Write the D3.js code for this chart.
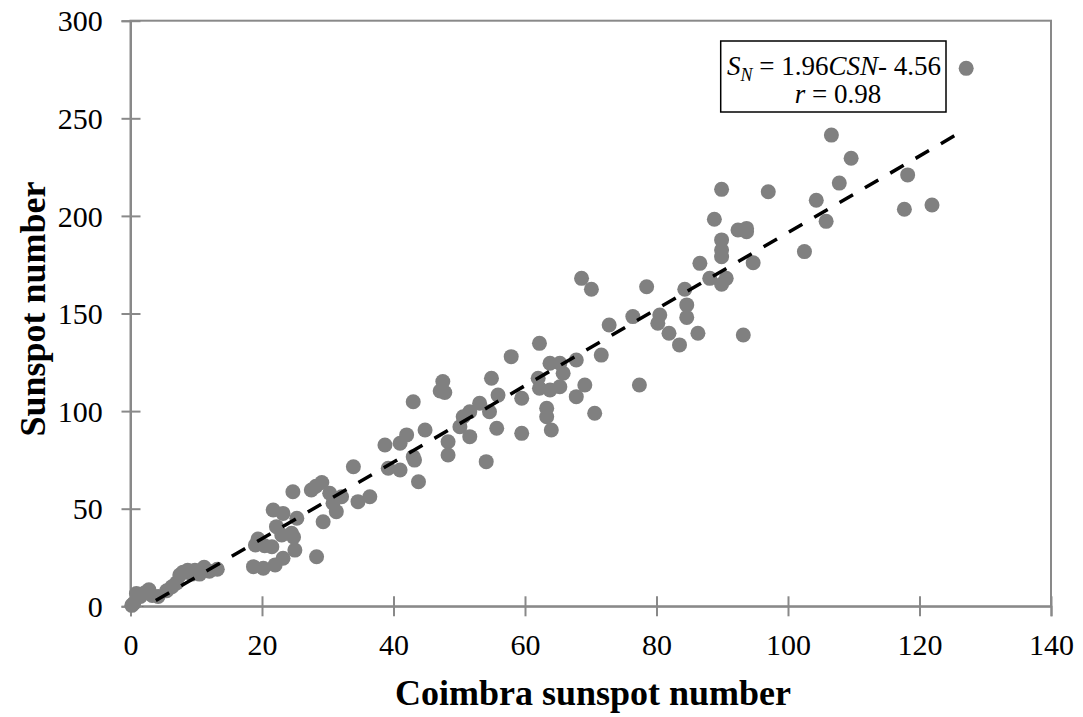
<!DOCTYPE html>
<html><head><meta charset="utf-8">
<script src="https://cdn.jsdelivr.net/npm/d3@7"></script>
<style>body{margin:0;background:#fff}svg{display:block}</style>
</head><body>
<svg id="c" width="1083" height="717"></svg>
<script>
const csn = [0.2,0.5,0.9,1.5,2.2,2.8,3.3,4.2,5.5,6.3,7.0,7.5,8.0,8.7,9.3,9.8,10.5,11.2,12.0,13.2,
18.7,20.2,22.0,23.2,25.0,28.3,19.0,19.4,20.4,21.5,22.2,23.0,24.5,24.8,25.3,21.7,23.2,24.7,27.5,28.2,29.1,30.3,30.8,31.3,29.3,32.1,33.9,34.6,36.4,
38.7,39.2,41.0,41.0,42.0,43.0,43.2,43.8,43.0,44.8,47.5,47.1,47.8,48.3,48.3,50.1,50.6,51.6,51.6,53.1,54.6,54.1,54.9,55.9,55.7,57.9,59.5,59.5,62.2,62.0,62.2,63.8,65.3,63.3,63.3,64.0,63.8,65.3,65.8,67.8,67.8,69.1,70.6,71.6,72.8,68.6,70.1,77.4,76.4,78.5,
80.5,80.2,81.9,83.5,84.3,84.6,84.6,86.3,86.6,88.1,88.8,89.9,89.9,89.9,89.9,89.9,90.6,92.4,93.7,93.7,93.2,94.7,97.0,102.5,104.3,105.8,106.6,107.8,109.6,117.7,118.2,121.9,127.1];
const sn = [0.5,1.5,6.5,5,7,8.5,5.5,5,8,10,12,16,17.5,18.5,16.5,18.5,16.5,20,18,19,
20.3,19.5,21.2,24.6,28.8,25.4,31.4,34.5,31.0,30.5,40.8,36.5,37.4,35.5,45.1,49.3,47.6,58.7,59.6,61.5,63.4,57.9,52.8,48.5,43.3,56.1,71.5,53.6,56.1,
82.6,70.7,69.8,83.5,87.8,76.6,74.9,63.8,104.8,90.3,115.1,110.3,109.5,84.3,77.5,92,97.1,99.7,86.9,104,99.7,74.1,116.8,108.2,91.2,127.9,106.6,88.6,134.7,116.8,111.7,110.8,112.5,101.4,97.1,90.3,124.5,124.5,119.4,126.2,107.4,113.4,98.9,128.7,144.1,168,162.4,113.4,148.4,163.7,
149.2,145,139.9,133.9,162.4,154.4,148,139.9,175.7,168,198.3,213.6,187.7,182.5,179.1,165,168,192.8,193.6,191.9,139,176,212.4,181.7,208,197.2,241.4,216.8,229.5,203.4,221,205.6,275.6];
const xTicks = [0,20,40,60,80,100,120,140];
const yTicks = [0,50,100,150,200,250,300];
const trendSlope = 1.96, trendIntercept = -4.56;
const xTitle = "Coimbra sunspot number";
const yTitle = "Sunspot number";

const svg = d3.select("#c");
const L = 130.5, R = 1051, T = 20.7, B = 606.3;
const x = d3.scaleLinear().domain([0,140]).range([L,R]);
const y = d3.scaleLinear().domain([0,300]).range([B,T]);
const gray = "#898989";
const font = "'Liberation Serif','Times New Roman',serif";

svg.append("defs").append("clipPath").attr("id","pc").append("rect")
  .attr("x",L).attr("y",T).attr("width",R-L).attr("height",B-T);

svg.append("rect").attr("x",L).attr("y",T).attr("width",R-L).attr("height",B-T)
  .attr("fill","none").attr("stroke",gray).attr("stroke-width",2);

const gx = svg.append("g").attr("transform",`translate(0,${B})`)
  .call(d3.axisBottom(x).tickValues(xTicks).tickSize(10).tickFormat(d3.format("d")));
gx.selectAll(".tick line").attr("y1",-10).attr("stroke",gray).attr("stroke-width",2);
gx.select(".domain").attr("stroke",gray).attr("stroke-width",2);
gx.selectAll("text").attr("y",48.7).attr("dy",0).attr("font-family",font).attr("font-size",30).attr("fill","#000");

const gy = svg.append("g").attr("transform",`translate(${L},0)`)
  .call(d3.axisLeft(y).tickValues(yTicks).tickSize(9).tickFormat(d3.format("d")));
gy.selectAll(".tick line").attr("x1",10).attr("stroke",gray).attr("stroke-width",2);
gy.select(".domain").attr("stroke",gray).attr("stroke-width",2);
gy.selectAll("text").attr("x",-27.8).attr("dy","0.34em").attr("font-family",font).attr("font-size",30).attr("fill","#000");

const pts = csn.map((v,i)=>({x:v,y:sn[i]}));
svg.append("g").selectAll("circle").data(pts).join("circle")
  .attr("cx",d=>x(d.x)).attr("cy",d=>y(d.y)).attr("r",7.5).attr("fill","#808080");

const xmax = d3.max(csn);
const tl = [0, xmax].map(v=>({x:v,y:trendSlope*v+trendIntercept}));
svg.append("path").datum(tl).attr("clip-path","url(#pc)")
  .attr("d",d3.line().x(d=>x(d.x)).y(d=>y(d.y)))
  .attr("fill","none").attr("stroke","#000").attr("stroke-width",3.5).attr("stroke-dasharray","15.5,13.8");

// annotation
svg.append("rect").attr("x",720.7).attr("y",41).attr("width",225.3).attr("height",71)
  .attr("fill","#fff").attr("stroke","#000").attr("stroke-width",1.5);
const t1 = svg.append("text").attr("x",834).attr("y",75).attr("text-anchor","middle")
  .attr("font-family",font).attr("font-size",27);
t1.append("tspan").attr("font-style","italic").text("S");
t1.append("tspan").attr("font-style","italic").attr("font-size",18).attr("dy",6).text("N");
t1.append("tspan").attr("dy",-6).text(" = 1.96");
t1.append("tspan").attr("font-style","italic").text("CSN");
t1.append("tspan").text("- 4.56");
const t2 = svg.append("text").attr("x",838).attr("y",103).attr("text-anchor","middle")
  .attr("font-family",font).attr("font-size",27);
t2.append("tspan").attr("font-style","italic").text("r");
t2.append("tspan").text(" = 0.98");

svg.append("text").attr("x",593).attr("y",705).attr("text-anchor","middle")
  .attr("font-family",font).attr("font-size",36).attr("font-weight","bold").text(xTitle);
svg.append("text").attr("transform","translate(45,309) rotate(-90)").attr("text-anchor","middle")
  .attr("font-family",font).attr("font-size",36).attr("font-weight","bold").text(yTitle);
</script>
</body></html>
